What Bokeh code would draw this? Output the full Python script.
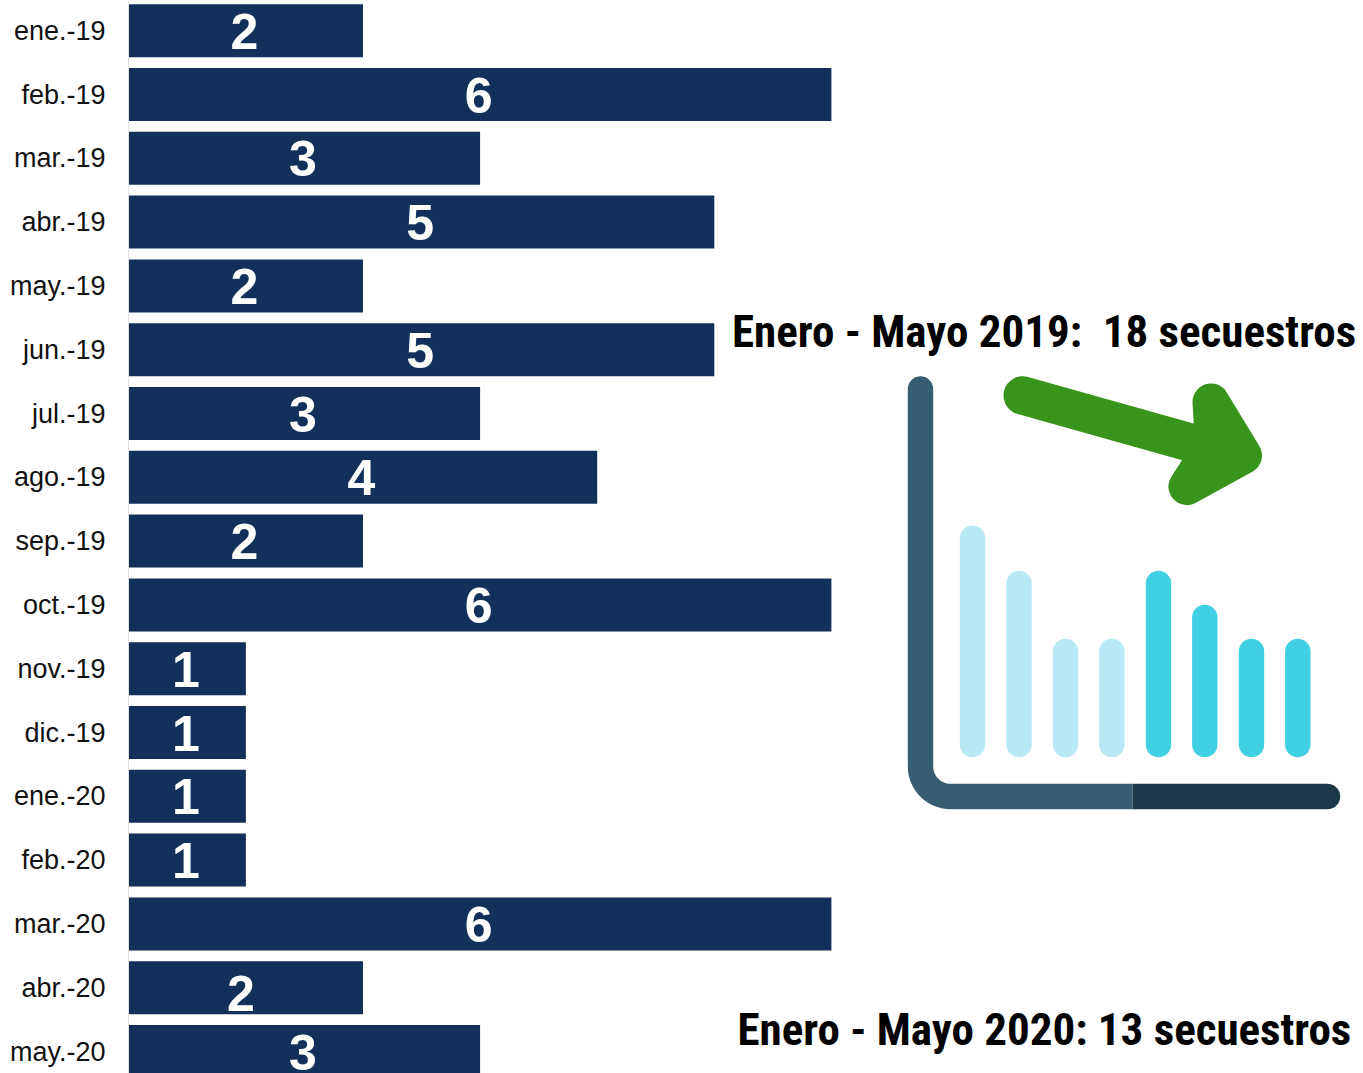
from bokeh.plotting import figure
from bokeh.models import ColumnDataSource, Range1d, FixedTicker
from bokeh.core.properties import value
from bokeh.embed import file_html
from bokeh.resources import INLINE
import numpy as np

months = ["ene.-19","feb.-19","mar.-19","abr.-19","may.-19","jun.-19","jul.-19","ago.-19","sep.-19","oct.-19","nov.-19","dic.-19","ene.-20","feb.-20","mar.-20","abr.-20","may.-20"]
counts = [2,6,3,5,2,5,3,4,2,6,1,1,1,1,6,2,3]
title_2019 = "Enero - Mayo 2019:\u00a0\u00a018 secuestros"
title_2020 = "Enero - Mayo 2020: 13 secuestros"

W, H = 1363, 1073
LEFT = 128
X0, UNIT = 128.3, 117.1      # page x of value 0, px per unit
Y0, PITCH = 30.2, 63.8       # page y of first row, px per row

p = figure(width=W, height=H, toolbar_location=None, output_backend="svg",
           x_range=Range1d((LEFT-X0)/UNIT, (W-X0)/UNIT),
           y_range=Range1d((H-Y0)/PITCH, (0-Y0)/PITCH),
           min_border_left=LEFT, min_border_right=0, min_border_top=0, min_border_bottom=0,
           outline_line_color=None, background_fill_color="white", border_fill_color="white")
p.styles = {"position": "absolute", "left": "0px", "top": "0px"}
p.extra_x_ranges = {"px": Range1d(LEFT, W)}
p.extra_y_ranges = {"px": Range1d(H, 0)}
p.grid.visible = False
p.xaxis.visible = False

ya = p.yaxis[0]
ya.ticker = FixedTicker(ticks=list(range(len(months))))
ya.major_label_overrides = {i: m for i, m in enumerate(months)}
ya.major_label_text_font = "Liberation Sans"
ya.major_label_text_font_size = "27px"
ya.major_label_text_color = "#111111"
ya.major_label_standoff = 17
ya.major_tick_line_color = None
ya.minor_tick_line_color = None
ya.axis_line_color = "#e0e0e0"
ya.axis_line_width = 1

idx = list(range(len(months)))
dx = [-1.5]*len(months); dy = [0.5]*len(months)
dx[15] = -5; dy[15] = 6
src = ColumnDataSource(dict(y=idx, v=counts, mid=[c/2 for c in counts], t=[str(c) for c in counts], dx=dx, dy=dy))
p.hbar(y="y", left=0, right="v", height=53/PITCH, source=src, fill_color="#11315b", line_color=None)
p.text(x="mid", y="y", text="t", source=src, x_offset="dx", y_offset="dy", text_color="white",
       text_font=value("Liberation Sans"), text_font_style="bold", text_font_size="50px",
       text_align="center", text_baseline="middle")

kw = dict(x_range_name="px", y_range_name="px")
# titles
p.text(x=[731.5], y=[331], text=[title_2019], text_font=value("Roboto Condensed"), text_font_style="bold",
       text_font_size="45px", text_color="black", text_baseline="alphabetic", **kw)
p.text(x=[737], y=[1029], text=[title_2020], text_font=value("Roboto Condensed"), text_font_style="bold",
       text_font_size="45px", text_color="black", text_baseline="alphabetic", **kw)

# icon: axes, as solid outlines
AX, DARK = "#375d73", "#1a3848"
R = 12.7
t_top = np.linspace(np.pi, 2*np.pi, 20)
t_in = np.linspace(np.pi, np.pi/2, 16)
t_out = np.linspace(np.pi/2, np.pi, 16)
t_end = np.linspace(-np.pi/2, np.pi/2, 20)
ax_x = np.r_[920 + R*np.cos(t_top), 950 + 17.3*np.cos(t_in), 1132, 1132, 950 + 42.7*np.cos(t_out)]
ax_y = np.r_[388.5 + R*np.sin(t_top), 766 + 17.3*np.sin(t_in), 783.3, 808.7, 766 + 42.7*np.sin(t_out)]
p.patch(ax_x, ax_y, fill_color=AX, line_color=None, **kw)
dk_x = np.r_[1132, 1327 + R*np.cos(t_end), 1132]
dk_y = np.r_[783.3, 796 + R*np.sin(t_end), 808.7]
p.patch(dk_x, dk_y, fill_color=DARK, line_color=None, **kw)

# icon: small bars
bx = [972, 1018.5, 1065, 1111.3, 1158, 1204.3, 1251, 1297.3]
bt = [525, 570.3, 638.3, 638.3, 570.3, 604.3, 638.3, 638.3]
bc = ["#b9e9f5"]*4 + ["#41cfe2"]*4
p.segment(x0=bx, x1=bx, y0=[t+12.7 for t in bt], y1=[744]*8, line_color=bc, line_width=25.4, line_cap="round", **kw)

# icon: arrow
G = "#38941a"
p.line([1022.3, 1195], [395, 443.5], line_color=G, line_width=38.6, line_cap="round", **kw)
p.patch([1210.5, 1243, 1186.5, 1213], [401.5, 455, 486, 445], fill_color=G, line_color=G, line_width=37, line_join="round", **kw)

open("out.html", "w").write(file_html(p, INLINE))
